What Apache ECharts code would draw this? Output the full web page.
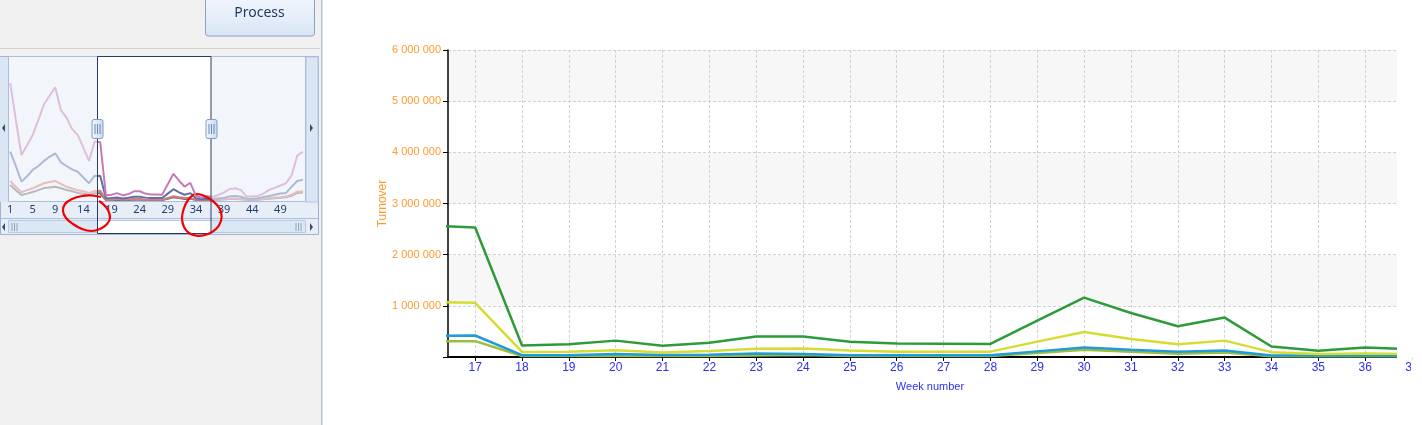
<!DOCTYPE html>
<html><head><meta charset="utf-8">
<script src="https://cdn.jsdelivr.net/npm/echarts@6/dist/echarts.min.js"></script>
<style>html,body{margin:0;padding:0;background:#fff;}#c{width:1422px;height:425px;}</style>
</head><body><div id="c"></div>
<script>
// ---- data ----
const weeks = [1,2,3,4,5,6,7,8,9,10,11,12,13,14,15,16,17,18,19,20,21,22,23,24,25,26,27,28,29,30,31,32,33,34,35,36,37,38,39,40,41,42,43,44,45,46,47,48,49,50,51,52,53];
const seriesGreen = [5100000,3500000,1980000,2400000,2850000,3500000,4180000,4550000,4920000,3930000,3600000,3100000,2850000,2300000,1720000,2570000,2530000,225000,250000,320000,220000,280000,400000,400000,300000,265000,260000,255000,710000,1160000,860000,600000,770000,205000,120000,185000,150000,240000,350000,500000,530000,450000,170000,180000,200000,300000,460000,550000,650000,750000,1100000,1950000,2120000];
const seriesYellow = [2120000,1500000,820000,1050000,1330000,1500000,1720000,1900000,2050000,1660000,1500000,1350000,1250000,1000000,750000,1080000,1060000,100000,105000,130000,90000,115000,160000,165000,125000,105000,105000,105000,300000,490000,350000,250000,320000,95000,60000,70000,60000,90000,120000,180000,200000,160000,80000,80000,100000,150000,200000,250000,300000,330000,600000,850000,900000];
const seriesBlue = [850000,600000,360000,450000,530000,640000,750000,800000,850000,720000,600000,520000,450000,400000,330000,410000,420000,35000,35000,60000,40000,45000,70000,60000,35000,35000,35000,35000,110000,185000,140000,105000,125000,30000,30000,30000,30000,50000,60000,80000,90000,70000,40000,40000,50000,70000,100000,120000,140000,170000,250000,380000,400000];
const seriesOlive = [670000,450000,240000,300000,370000,450000,540000,570000,600000,530000,460000,400000,330000,290000,240000,310000,310000,20000,20000,25000,20000,20000,30000,40000,20000,20000,20000,20000,80000,140000,105000,65000,90000,15000,15000,15000,15000,30000,40000,60000,70000,50000,25000,25000,35000,50000,80000,100000,120000,140000,200000,330000,350000];
const mainTicks = [17,18,19,20,21,22,23,24,25,26,27,28,29,30,31,32,33,34,35,36,37];
const miniTicks = [1,5,9,14,19,24,29,34,39,44,49];
const yTicksMax = 6000000, yInterval = 1000000;
const viewStart = 16.42, viewEnd = 36.66;

const pairs = arr => weeks.map((w,i)=>[w, arr[i]]);
const mainColors = ['#9cbd3e','#1f9bd8','#d5dc32','#2e9b3a'];
const miniColors = ['#6f6f6f','#d77b7b','#5c71a6','#c77ab5'];
const order = [seriesOlive, seriesBlue, seriesYellow, seriesGreen];
const names = ['Olive','Blue','Yellow','Green'];

const chart = echarts.init(document.getElementById('c'), null, {renderer:'canvas'});
const fmt = v => v === 0 ? '' : String(v).replace(/\B(?=(\d{3})+(?!\d))/g, ' ');

const series = [];
order.forEach((arr,i)=>{
  series.push({type:'line', name:names[i], xAxisIndex:0, yAxisIndex:0, data:pairs(arr), showSymbol:false, symbol:'none',
    lineStyle:{color:mainColors[i], width:2.5}, itemStyle:{color:mainColors[i]}, z:3, animation:false});
  series.push({type:'line', name:names[i]+'m', xAxisIndex:1, yAxisIndex:1, data:pairs(arr), showSymbol:false, symbol:'none',
    lineStyle:{color:miniColors[i], width:2}, itemStyle:{color:miniColors[i]}, z:3, animation:false});
});

const grip = (x) => [0,1,2].map(k=>({type:'line', shape:{x1:x+k*2.5, y1:124, x2:x+k*2.5, y2:134}, style:{stroke:'#6b88b5', lineWidth:1}, z:12}));
const handle = (x) => [{type:'rect', shape:{x:x-5.5, y:119.5, width:11, height:19, r:2},
   style:{fill:new echarts.graphic.LinearGradient(0,0,1,0,[{offset:0,color:'#f4f8fe'},{offset:1,color:'#c6d9f0'}]), stroke:'#7e9cc6', lineWidth:1}, z:11}].concat(grip(x-2.5));
const triS = (x,y,dir) => ({type:'polygon', shape:{points: dir<0 ? [[x+2,y-4],[x+2,y+4],[x-1,y]] : [[x-2,y-4],[x-2,y+4],[x+1,y]]}, style:{fill:'#3a4a66'}, z:9});

const graphics = [
  {type:'rect', shape:{x:0,y:0,width:321,height:425}, style:{fill:'#f0f0f0'}, z:-20},
  {type:'line', shape:{x1:321.5,y1:0,x2:321.5,y2:425}, style:{stroke:'#b5bfcc', lineWidth:1}, z:-19},
  {type:'line', shape:{x1:322.5,y1:0,x2:322.5,y2:425}, style:{stroke:'#dde5ef', lineWidth:1}, z:-19},
  {type:'line', shape:{x1:0,y1:48.5,x2:320,y2:48.5}, style:{stroke:'#d4d4d4', lineWidth:1}, z:-19},
  {type:'rect', shape:{x:205.5,y:-4,width:109,height:40,r:3},
    style:{fill:new echarts.graphic.LinearGradient(0,0,0,1,[{offset:0,color:'#f1f6fd'},{offset:0.5,color:'#e6eef9'},{offset:1,color:'#d8e5f4'}]), stroke:'#8ea3c1', lineWidth:1}, z:-18},
  {type:'text', style:{x:259.5, y:13, text:'Process', fill:'#1e395b', font:'14px "Noto Sans", sans-serif', align:'center', verticalAlign:'middle'}, z:-17},
  // mini control
  {type:'rect', shape:{x:0.5,y:56.5,width:318,height:178}, style:{fill:'#e8eef8', stroke:'#9db4d7', lineWidth:1}, z:-15},
  {type:'rect', shape:{x:0,y:57,width:8,height:145}, style:{fill:'#dbe6f4'}, z:-14},
  {type:'rect', shape:{x:306,y:57,width:12,height:145}, style:{fill:'#dbe6f4', stroke:'#b3c6e2', lineWidth:1}, z:-14},
  {type:'rect', shape:{x:8.5,y:56.5,width:297,height:145}, style:{fill:'#f2f5fb', stroke:'#a9bddd', lineWidth:1}, z:-13},
  {type:'rect', shape:{x:97,y:57,width:114,height:144}, style:{fill:'#ffffff'}, z:-12},
  {type:'line', shape:{x1:0,y1:218.5,x2:318,y2:218.5}, style:{stroke:'#a9bddd', lineWidth:1}, z:-12},
  {type:'rect', shape:{x:8.5,y:220.5,width:297,height:12}, style:{fill:'#dce7f4', stroke:'#b8cae3', lineWidth:1}, z:-11},
  {type:'rect', shape:{x:97,y:221,width:114,height:12}, style:{fill:'#ffffff'}, z:-10},
  triS(3,128,-1), triS(312,128,1), triS(3,227,-1), triS(312,227,1),
  ...[12,14.5,17].map(x=>({type:'line', shape:{x1:x,y1:223,x2:x,y2:231}, style:{stroke:'#8da3c4', lineWidth:1}, z:-9})),
  ...[296,298.5,301].map(x=>({type:'line', shape:{x1:x,y1:223,x2:x,y2:231}, style:{stroke:'#8da3c4', lineWidth:1}, z:-9})),
  // faded overlay outside window
  {type:'rect', shape:{x:9,y:57,width:88,height:144}, style:{fill:'rgba(242,245,251,0.55)'}, z:8},
  {type:'rect', shape:{x:211,y:57,width:94,height:144}, style:{fill:'rgba(242,245,251,0.55)'}, z:8},
  {type:'rect', shape:{x:97.5,y:56.5,width:113.5,height:177}, style:{fill:'none', stroke:'#2b3c64', lineWidth:1}, z:10},
  ...handle(97.5), ...handle(211.5),
  // hand-drawn red marks
  {type:'polyline', shape:{smooth:0.4, points:[[101,197],[92,195.5],[82,196],[72,199],[65,204],[63,211],[66,218],[73,224],[82,229],[91,231],[100,229],[107,224],[110,218],[108,210],[103,204],[99,201]]}, style:{stroke:'#f00000', lineWidth:2.2, fill:'none'}, z:20},
  {type:'polyline', shape:{smooth:0.4, points:[[194,194],[188,200],[184,208],[182,218],[184,227],[189,233],[198,236],[208,234],[216,229],[221,221],[221,212],[217,205],[210,199],[202,195],[196,194]]}, style:{stroke:'#f00000', lineWidth:2.2, fill:'none'}, z:20},
  // crop of the main plot on the right
  {type:'rect', shape:{x:1397,y:40,width:25,height:318.5}, style:{fill:'#ffffff'}, z:30},
  {type:'rect', shape:{x:1411,y:358.5,width:11,height:25}, style:{fill:'#ffffff'}, z:30}
];

chart.setOption({
  animation:false,
  grid:[
    {left:448, right:10, top:50, bottom:68},
    {left:10.2, right:1119.1, top:56, bottom:224.5}
  ],
  xAxis:[
    {type:'value', gridIndex:0, min:viewStart, max:37,
     axisLine:{show:true, onZero:false, lineStyle:{color:'#000', width:2}},
     axisTick:{show:true, length:4, customValues:mainTicks, lineStyle:{color:'#000'}},
     axisLabel:{customValues:mainTicks, color:'#2f2ff5', fontSize:12, fontFamily:'"Liberation Sans", Arial, sans-serif', margin:5},
     splitLine:{show:true, lineStyle:{color:'#d2d2d2', type:[3,2], width:1}},
     name:'Week number', nameLocation:'middle', nameGap:24, nameMoveOverlap:false,
     nameTextStyle:{color:'#2f2ff5', fontSize:11, fontFamily:'"Liberation Sans", Arial, sans-serif'}},
    {type:'value', gridIndex:1, min:1, max:53,
     axisLine:{show:false}, axisTick:{show:false}, splitLine:{show:false},
     axisLabel:{customValues:miniTicks, color:'#1e3f72', fontSize:11, fontFamily:'"Noto Sans", sans-serif', margin:4}}
  ],
  yAxis:[
    {type:'value', gridIndex:0, min:0, max:yTicksMax, interval:yInterval,
     axisLine:{show:true, lineStyle:{color:'#000', width:1.5}},
     axisTick:{show:true, length:5, lineStyle:{color:'#000'}},
     axisLabel:{formatter:fmt, color:'#ff9a2e', fontSize:11, fontFamily:'"Liberation Sans", Arial, sans-serif', margin:7},
     splitLine:{show:true, lineStyle:{color:'#d2d2d2', type:[3,2], width:1}},
     splitArea:{show:true, areaStyle:{color:['#ffffff','#f7f7f7']}},
     name:'Turnover', nameLocation:'middle', nameGap:59, nameMoveOverlap:false,
     nameTextStyle:{color:'#ff9a2e', fontSize:12, fontFamily:'"Liberation Sans", Arial, sans-serif'}},
    {type:'value', gridIndex:1, min:0, max:6280000, show:false, splitLine:{show:false}}
  ],
  graphic:{elements:graphics},
  series: series
});
</script></body></html>
